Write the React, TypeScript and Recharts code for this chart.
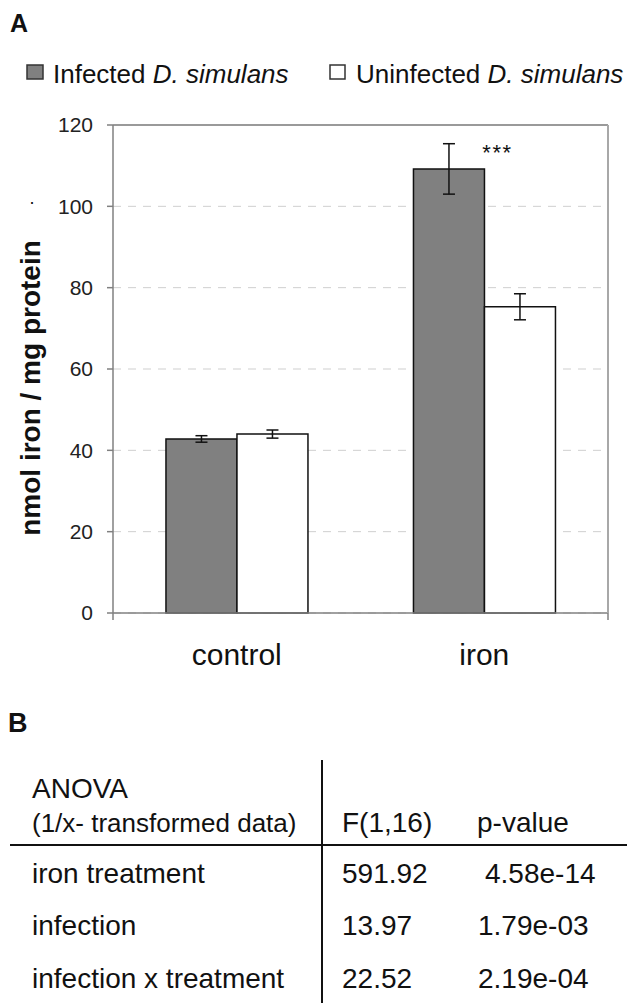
import { Bar, BarChart, CartesianGrid, ErrorBar, LabelList, ReferenceLine, XAxis, YAxis } from "recharts";

const groups = ["control", "iron"];
const infected = [42.8, 109.2];
const infectedErr = [0.8, 6.2];
const uninfected = [44.0, 75.3];
const uninfectedErr = [1.0, 3.2];
const significance = ["", "***"];
const yTicks = [0, 20, 40, 60, 80, 100, 120];
const edgeTicks = [0, 1, 2];

const anovaTerms = ["iron treatment", "infection", "infection x treatment"];
const fValues = ["591.92", "13.97", "22.52"];
const pValues = ["4.58e-14", "1.79e-03", "2.19e-04"];

const data = groups.map((group, i) => ({
  group,
  infected: infected[i],
  infectedErr: infectedErr[i],
  uninfected: uninfected[i],
  uninfectedErr: uninfectedErr[i],
  sig: significance[i],
}));

const font = "'Liberation Sans', Arial, sans-serif";
const axisGray = "#808080";

function Stars(props: any) {
  const { x, y, width, value } = props;
  if (!value) return null;
  return (
    <text x={x + width + 13} y={y - 9} textAnchor="middle" fontSize={22} letterSpacing={1.5} fill="#111" fontFamily={font}>
      {value}
    </text>
  );
}

export default function App() {
  const rowBase = [883, 935, 988];
  const pX = [485, 478, 478];
  return (
    <div style={{ position: "absolute", left: 0, top: 0, width: 627, height: 1003, background: "#fff", fontFamily: font }}>
      <BarChart
        width={627}
        height={680}
        data={data}
        margin={{ top: 125, right: 18, left: 13, bottom: 0 }}
        barCategoryGap="21.4%"
        barGap={0}
      >
        <CartesianGrid vertical={false} stroke="#cfcfcf" strokeDasharray="8 7" />
        <XAxis
          xAxisId="a"
          type="number"
          domain={[0, 2]}
          ticks={edgeTicks}
          allowDataOverflow
          tickFormatter={() => ""}
          tickSize={7}
          height={1}
          axisLine={{ stroke: axisGray, strokeWidth: 1.5 }}
          tickLine={{ stroke: axisGray, strokeWidth: 1.5 }}
        />
        <XAxis
          xAxisId="b"
          dataKey="group"
          axisLine={false}
          tickLine={false}
          tickSize={0}
          tickMargin={30}
          height={66}
          tick={{ fontSize: 30, fill: "#111", fontFamily: font }}
        />
        <YAxis
          domain={[0, 120]}
          ticks={yTicks}
          interval={0}
          width={100}
          tickSize={6}
          tickMargin={14}
          axisLine={{ stroke: axisGray, strokeWidth: 1.5 }}
          tickLine={{ stroke: axisGray, strokeWidth: 1.5 }}
          tick={{ fontSize: 21, fill: "#222", fontFamily: font }}
        />
        <YAxis
          yAxisId="right"
          orientation="right"
          domain={[0, 120]}
          width={1}
          tick={false}
          tickLine={false}
          axisLine={{ stroke: "#a8a8a8", strokeWidth: 2 }}
        />
        <ReferenceLine y={120} stroke="#9a9a9a" strokeWidth={2} />
        <Bar xAxisId="b" dataKey="infected" fill="#808080" stroke="#111" strokeWidth={1.5} isAnimationActive={false}>
          <ErrorBar dataKey="infectedErr" width={6} stroke="#111" strokeWidth={1.5} />
          <LabelList dataKey="sig" content={Stars} />
        </Bar>
        <Bar xAxisId="b" dataKey="uninfected" fill="#ffffff" stroke="#111" strokeWidth={1.5} isAnimationActive={false}>
          <ErrorBar dataKey="uninfectedErr" width={6} stroke="#111" strokeWidth={1.5} />
        </Bar>
      </BarChart>

      <svg width={627} height={1003} style={{ position: "absolute", left: 0, top: 0, pointerEvents: "none" }} fontFamily={font}>
        <text x={10} y={32} fontSize={25} fontWeight="bold" fill="#111">A</text>

        <rect x={27} y={65} width={16} height={14} fill="#808080" stroke="#333" strokeWidth={1.5} />
        <text x={53} y={83} fontSize={26} fill="#111">
          Infected <tspan fontStyle="italic">D. simulans</tspan>
        </text>
        <rect x={330} y={65} width={15} height={14} fill="#fff" stroke="#333" strokeWidth={1.5} />
        <text x={356} y={83} fontSize={26} fill="#111">
          Uninfected <tspan fontStyle="italic">D. simulans</tspan>
        </text>

        <text transform="translate(30, 388) rotate(-90)" textAnchor="middle" dominantBaseline="central" fontSize={28} fontWeight="bold" fill="#111">
          nmol iron / mg protein
        </text>
        <text x={32} y={204} textAnchor="middle" fontSize={18} fill="#111">.</text>

        <text x={8} y={732} fontSize={27} fontWeight="bold" fill="#111">B</text>
        <line x1={322} y1={760} x2={322} y2={1003} stroke="#111" strokeWidth={2} />
        <line x1={10} y1={845} x2={627} y2={845} stroke="#111" strokeWidth={2} />
        <text x={32} y={798} fontSize={28} fill="#111">ANOVA</text>
        <text x={32} y={832} fontSize={26} fill="#111">(1/x- transformed data)</text>
        <text x={342} y={832} fontSize={28} fill="#111">F(1,16)</text>
        <text x={477} y={832} fontSize={28} fill="#111">p-value</text>
        {anovaTerms.map((t, i) => (
          <g key={t}>
            <text x={32} y={rowBase[i]} fontSize={28} fill="#111">{t}</text>
            <text x={342} y={rowBase[i]} fontSize={28} fill="#111">{fValues[i]}</text>
            <text x={pX[i]} y={rowBase[i]} fontSize={28} fill="#111">{pValues[i]}</text>
          </g>
        ))}
      </svg>
    </div>
  );
}
